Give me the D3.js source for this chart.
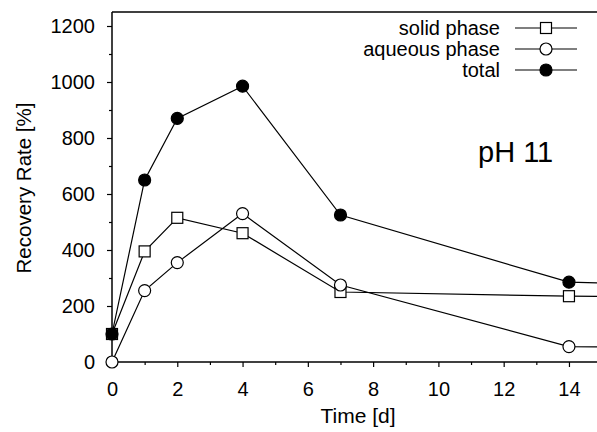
<!DOCTYPE html>
<html>
<head>
<meta charset="utf-8">
<script src="https://cdn.jsdelivr.net/npm/d3@7"></script>
<style>
  body { margin: 0; background: #fff; }
  text { font-family: "Liberation Sans", Arial, sans-serif; fill: #000; }
</style>
</head>
<body>
<div id="chart"></div>
<script>
  const W = 597
  const H = 432
  const MARGIN = { left: 112, top: 12, right: 0, bottom: 70 }

  // data (day 21 is off the right edge, only its segment shows)
  const days = [0, 1, 2, 4, 7, 14, 21]
  const solid = [100, 395, 515, 460, 250, 235, 232]
  const aqueous = [0, 255, 355, 530, 275, 55, 45]
  const total = [100, 650, 870, 985, 525, 285, 268]
  const xTicks = [0, 2, 4, 6, 8, 10, 12, 14]
  const yTicks = [0, 200, 400, 600, 800, 1000, 1200]

  const series = [
    { name: 'solid phase', values: solid, marker: 'square' },
    { name: 'aqueous phase', values: aqueous, marker: 'circle' },
    { name: 'total', values: total, marker: 'dot' }
  ]

  const x = d3.scaleLinear().domain([0, 15]).range([MARGIN.left, MARGIN.left + 15 * 32.64])
  const y = d3.scaleLinear().domain([0, 1250]).range([362, MARGIN.top])

  const svg = d3.select('#chart').append('svg')
    .attr('width', W)
    .attr('height', H)

  svg.append('defs').append('clipPath').attr('id', 'plot')
    .append('rect')
    .attr('x', MARGIN.left - 10).attr('y', MARGIN.top)
    .attr('width', W).attr('height', 362 - MARGIN.top + 10)

  // frame: top line
  svg.append('line')
    .attr('x1', MARGIN.left).attr('x2', W)
    .attr('y1', MARGIN.top).attr('y2', MARGIN.top)
    .attr('stroke', '#000').attr('stroke-width', 1.5)

  // axes
  const yAxis = svg.append('g')
    .attr('transform', `translate(${MARGIN.left},0)`)
    .call(d3.axisLeft(y).tickValues(yTicks).tickSize(5).tickPadding(12).tickFormat(d3.format('d')))
  const yMinor = svg.append('g')
    .attr('transform', `translate(${MARGIN.left},0)`)
    .call(d3.axisLeft(y).tickValues(d3.range(100, 1300, 200)).tickSize(3).tickFormat(''))
  yMinor.select('.domain').remove()
  yAxis.select('.domain').attr('d', `M0,${y(0)}V${MARGIN.top}`)

  const xAxis = svg.append('g')
    .attr('transform', `translate(0,${y(0)})`)
    .call(d3.axisBottom(x).tickValues(xTicks).tickSize(5).tickPadding(15))
  const xMinor = svg.append('g')
    .attr('transform', `translate(0,${y(0)})`)
    .call(d3.axisBottom(x).tickValues(d3.range(1, 15, 2)).tickSize(3).tickFormat(''))
  xMinor.select('.domain').remove()
  xAxis.select('.domain').attr('d', `M${MARGIN.left},0H${W}`)

  svg.selectAll('.domain').attr('stroke-width', 1.5)
  svg.selectAll('.tick line').attr('stroke-width', 1.2)
  svg.selectAll('.tick text').attr('font-size', 20)
    .attr('font-family', '"Liberation Sans", Arial, sans-serif')

  // axis titles
  svg.append('text')
    .attr('transform', `translate(31,188) rotate(-90)`)
    .attr('text-anchor', 'middle')
    .attr('font-size', 20.5)
    .text('Recovery Rate [%]')

  svg.append('text')
    .attr('x', 358).attr('y', 423)
    .attr('text-anchor', 'middle')
    .attr('font-size', 21)
    .text('Time [d]')

  svg.append('text')
    .attr('x', 478).attr('y', 162)
    .attr('font-size', 29)
    .text('pH 11')

  // series
  const content = svg.append('g').attr('clip-path', 'url(#plot)')
  const line = d3.line()
    .x((d, i) => x(days[i]))
    .y(d => y(d))

  function drawMarker(g, type, cx, cy) {
    if (type === 'square') {
      g.append('rect')
        .attr('x', cx - 5.5).attr('y', cy - 5.5)
        .attr('width', 11).attr('height', 11)
        .attr('fill', '#fff').attr('stroke', '#000').attr('stroke-width', 1.2)
    } else {
      g.append('circle')
        .attr('cx', cx).attr('cy', cy).attr('r', 6)
        .attr('fill', type === 'dot' ? '#000' : '#fff')
        .attr('stroke', '#000').attr('stroke-width', 1.2)
    }
  }

  series.forEach(s => {
    content.append('path')
      .datum(s.values)
      .attr('d', line)
      .attr('fill', 'none')
      .attr('stroke', '#000')
      .attr('stroke-width', 1.2)
  })
  series.forEach(s => {
    const g = content.append('g')
    s.values.forEach((v, i) => drawMarker(g, s.marker, x(days[i]), y(v)))
  })

  // legend
  const legend = svg.append('g')
  series.forEach((s, i) => {
    const ly = 28 + i * 21
    legend.append('text')
      .attr('x', 500).attr('y', ly + 7)
      .attr('text-anchor', 'end')
      .attr('font-size', 20)
      .text(s.name)
    legend.append('line')
      .attr('x1', 515).attr('x2', 577)
      .attr('y1', ly).attr('y2', ly)
      .attr('stroke', '#000').attr('stroke-width', 1.2)
    drawMarker(legend, s.marker, 546, ly)
  })
</script>
</body>
</html>
